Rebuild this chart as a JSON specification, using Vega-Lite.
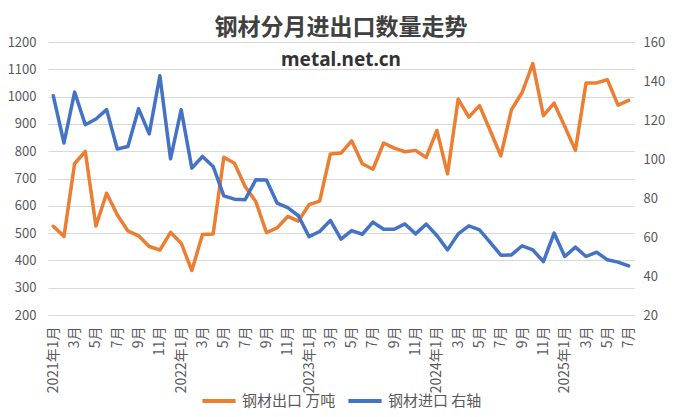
{
  "$schema": "https://vega.github.io/schema/vega-lite/v6.json",
  "width": 586,
  "height": 273,
  "autosize": {"type": "none"},
  "padding": {"left": 48, "top": 42, "right": 40, "bottom": 102},
  "background": "white",
  "title": {
    "text": "钢材分月进出口数量走势",
    "subtitle": "metal.net.cn",
    "anchor": "middle",
    "frame": "group",
    "offset": -34,
    "font": "Noto Sans CJK SC",
    "fontSize": 23,
    "fontWeight": "bold",
    "color": "#404040",
    "subtitleFont": "Noto Sans",
    "subtitleFontSize": 19,
    "subtitleFontWeight": "bold",
    "subtitleColor": "#333333",
    "subtitlePadding": 11
  },
  "config": {
    "view": {"stroke": null},
    "axis": {
      "labelFont": "Noto Sans CJK SC",
      "labelColor": "#595959",
      "labelFontSize": 13,
      "domain": false,
      "ticks": false,
      "gridColor": "#D9D9D9",
      "gridWidth": 1,
      "title": null
    }
  },
  "data": {
    "values": [
      {"month": "2021-01", "export": 525, "import": 132.4},
      {"month": "2021-02", "export": 488, "import": 108.2},
      {"month": "2021-03", "export": 755, "import": 134.3},
      {"month": "2021-04", "export": 799, "import": 117.6},
      {"month": "2021-05", "export": 526, "import": 120.5},
      {"month": "2021-06", "export": 646, "import": 125.3},
      {"month": "2021-07", "export": 567, "import": 105.1},
      {"month": "2021-08", "export": 508, "import": 106.4},
      {"month": "2021-09", "export": 490, "import": 125.8},
      {"month": "2021-10", "export": 451, "import": 112.9},
      {"month": "2021-11", "export": 438, "import": 142.7},
      {"month": "2021-12", "export": 503, "import": 100.1},
      {"month": "2022-01", "export": 463, "import": 125.3},
      {"month": "2022-02", "export": 363, "import": 95.3},
      {"month": "2022-03", "export": 495, "import": 101.3},
      {"month": "2022-04", "export": 497, "import": 96.2},
      {"month": "2022-05", "export": 778, "import": 81.1},
      {"month": "2022-06", "export": 756, "import": 79.4},
      {"month": "2022-07", "export": 671, "import": 79.1},
      {"month": "2022-08", "export": 616, "import": 89.3},
      {"month": "2022-09", "export": 502, "import": 89.2},
      {"month": "2022-10", "export": 519, "import": 77.4},
      {"month": "2022-11", "export": 561, "import": 75.1},
      {"month": "2022-12", "export": 544, "import": 70.9},
      {"month": "2023-01", "export": 604, "import": 60.2},
      {"month": "2023-02", "export": 617, "import": 62.8},
      {"month": "2023-03", "export": 790, "import": 68.5},
      {"month": "2023-04", "export": 793, "import": 58.9},
      {"month": "2023-05", "export": 838, "import": 63.3},
      {"month": "2023-06", "export": 754, "import": 61.4},
      {"month": "2023-07", "export": 734, "import": 67.6},
      {"month": "2023-08", "export": 830, "import": 64.0},
      {"month": "2023-09", "export": 811, "import": 64.0},
      {"month": "2023-10", "export": 798, "import": 66.7},
      {"month": "2023-11", "export": 803, "import": 61.6},
      {"month": "2023-12", "export": 777, "import": 66.6},
      {"month": "2024-01", "export": 876, "import": 60.8},
      {"month": "2024-02", "export": 717, "import": 53.4},
      {"month": "2024-03", "export": 991, "import": 61.6},
      {"month": "2024-04", "export": 925, "import": 65.7},
      {"month": "2024-05", "export": 967, "import": 63.7},
      {"month": "2024-06", "export": 876, "import": 57.3},
      {"month": "2024-07", "export": 783, "import": 50.7},
      {"month": "2024-08", "export": 952, "import": 50.8},
      {"month": "2024-09", "export": 1015, "import": 55.5},
      {"month": "2024-10", "export": 1121, "import": 53.4},
      {"month": "2024-11", "export": 930, "import": 47.4},
      {"month": "2024-12", "export": 976, "import": 62.0},
      {"month": "2025-01", "export": 891, "import": 50.0},
      {"month": "2025-02", "export": 803, "import": 54.8},
      {"month": "2025-03", "export": 1050, "import": 50.0},
      {"month": "2025-04", "export": 1050, "import": 52.2},
      {"month": "2025-05", "export": 1062, "import": 48.3},
      {"month": "2025-06", "export": 969, "import": 47.1},
      {"month": "2025-07", "export": 986, "import": 45.2}
    ]
  },
  "encoding": {
    "x": {
      "field": "month",
      "type": "ordinal",
      "scale": {"padding": 0.5},
      "axis": {
        "labelAngle": -90,
        "labelPadding": 11,
        "labelFontSize": 14,
        "grid": false,
        "labelOverlap": false,
        "labelExpr": "toNumber(substring(datum.value,5,7)) % 2 == 1 ? (toNumber(substring(datum.value,5,7)) == 1 ? substring(datum.value,0,4) + '年1月' : toNumber(substring(datum.value,5,7)) + '月') : ''"
      }
    }
  },
  "layer": [
    {
      "mark": {"type": "line", "strokeWidth": 3.5, "strokeCap": "round", "strokeJoin": "round"},
      "encoding": {
        "y": {
          "field": "export",
          "type": "quantitative",
          "scale": {"domain": [200, 1200], "nice": false, "zero": false},
          "axis": {"values": [200, 300, 400, 500, 600, 700, 800, 900, 1000, 1100, 1200], "format": "d", "labelPadding": 12, "grid": true}
        },
        "color": {
          "datum": "钢材出口 万吨",
          "type": "nominal",
          "scale": {"domain": ["钢材出口 万吨", "钢材进口 右轴"], "range": ["#ED7D31", "#4472C4"]},
          "legend": {
            "title": null,
            "orient": "none",
            "direction": "horizontal",
            "legendX": 152,
            "legendY": 340,
            "symbolType": "stroke",
            "symbolSize": 1100,
            "symbolStrokeWidth": 4,
            "labelFont": "Noto Sans CJK SC",
            "labelFontSize": 15,
            "labelColor": "#595959",
            "columnPadding": 4,
            "symbolOffset": 0
          }
        }
      }
    },
    {
      "mark": {"type": "line", "strokeWidth": 3.5, "strokeCap": "round", "strokeJoin": "round"},
      "encoding": {
        "y": {
          "field": "import",
          "type": "quantitative",
          "scale": {"domain": [20, 160], "nice": false, "zero": false},
          "axis": {"orient": "right", "values": [20, 40, 60, 80, 100, 120, 140, 160], "labelPadding": 9, "grid": false}
        },
        "color": {"datum": "钢材进口 右轴", "type": "nominal"}
      }
    }
  ],
  "resolve": {"scale": {"y": "independent"}}
}
